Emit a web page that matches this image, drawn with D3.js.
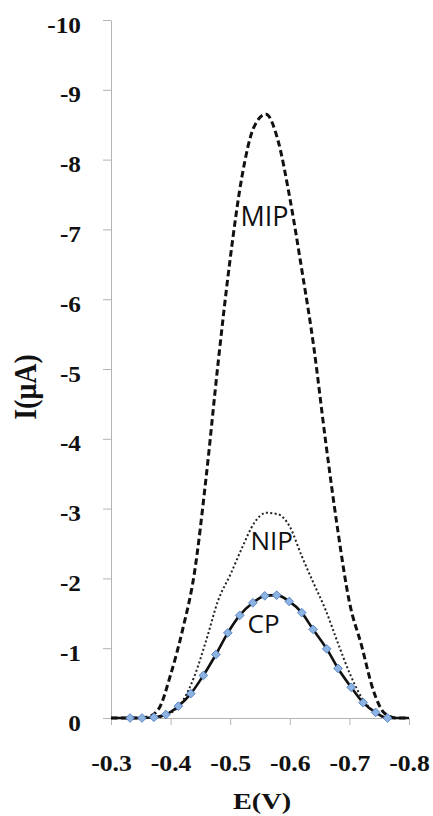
<!DOCTYPE html>
<html>
<head>
<meta charset="utf-8">
<script src="https://cdn.jsdelivr.net/npm/d3@7"></script>
<style>
body { margin: 0; background: #fff; }
svg { display: block; }
.axis path, .axis line { stroke: #b4b4b4; }
.tick-lbl, .ttl { font-family: "Liberation Serif", "DejaVu Serif", serif; font-weight: bold; fill: #111; }
.curve-lbl { font-family: "Open Sans", "Noto Sans", sans-serif; fill: #111; }
</style>
</head>
<body>
<div id="chart"></div>
<script>
'use strict';

// potentials (V) for the MIP / NIP curves
let E = [-0.30, -0.32, -0.34, -0.36, -0.38, -0.40, -0.42, -0.44, -0.46, -0.48, -0.50, -0.52, -0.54,
	-0.56, -0.58, -0.60, -0.62, -0.64, -0.66, -0.68, -0.70, -0.72, -0.74, -0.76, -0.78, -0.80];
let mip = [0, 0, 0, -0.01, -0.13, -0.62, -1.26, -2.08, -3.48, -5.11, -6.58, -7.77, -8.47,
	-8.65, -8.28, -7.45, -6.43, -5.33, -3.97, -2.72, -1.66, -1.05, -0.40, -0.06, 0, 0];
let nip = [0, 0, 0, 0, -0.01, -0.07, -0.24, -0.60, -1.12, -1.69, -2.05, -2.44, -2.79,
	-2.94, -2.92, -2.74, -2.32, -1.93, -1.55, -1.09, -0.65, -0.30, -0.10, -0.01, 0, 0];

// CP curve, first and last point have no marker
let cpE = [-0.300, -0.332, -0.352, -0.372, -0.392, -0.413, -0.434, -0.455, -0.476, -0.496, -0.516, -0.538,
	-0.558, -0.578, -0.599, -0.620, -0.639, -0.662, -0.681, -0.703, -0.723, -0.744, -0.764, -0.800];
let cp = [0, 0, 0, -0.01, -0.05, -0.17, -0.35, -0.61, -0.91, -1.22, -1.47, -1.65,
	-1.75, -1.76, -1.67, -1.51, -1.27, -0.99, -0.71, -0.44, -0.22, -0.08, 0, 0];

let xTicks = [-0.3, -0.4, -0.5, -0.6, -0.7, -0.8];
let yTicks = [0, -1, -2, -3, -4, -5, -6, -7, -8, -9, -10];

let labels = [
	{t: 'MIP', e: -0.5575, i: -7.05, s: 27},
	{t: 'NIP', e: -0.5695, i: -2.41, s: 26},
	{t: 'CP', e: -0.5560, i: -1.22, s: 26},
];

let W = 433, H = 816;
let x = d3.scaleLinear().domain([-0.3, -0.8]).range([111, 409]);
let y = d3.scaleLinear().domain([0, -10]).range([718, 20]);

let svg = d3.select('#chart')
	.append('svg')
		.attr('width', W)
		.attr('height', H)
	;

let gx = svg.append('g')
	.classed('axis', true)
	.attr('transform', 'translate(0,' + y(0) + ')')
	.call(d3.axisBottom(x).tickValues(xTicks).tickSize(7).tickSizeOuter(0).tickFormat(d => d.toFixed(1)))
	;
gx.selectAll('text')
	.classed('tick-lbl', true)
	.attr('y', null).attr('dy', null)
	.attr('font-size', 23)
	.attr('transform', 'translate(0,53) scale(1.12,1)')
	;

let gy = svg.append('g')
	.classed('axis', true)
	.attr('transform', 'translate(' + x(-0.3) + ',0)')
	.call(d3.axisLeft(y).tickValues(yTicks).tickSize(8).tickSizeOuter(0).tickFormat(d => String(d)))
	;
gy.selectAll('text')
	.classed('tick-lbl', true)
	.attr('x', null).attr('dy', null)
	.attr('font-size', 23)
	.attr('transform', 'translate(-30,12) scale(1.1,1)')
	;
svg.selectAll('.axis').attr('font-size', null).attr('font-family', null);

svg.append('text')
	.classed('ttl', true)
	.attr('font-size', 28)
	.attr('text-anchor', 'middle')
	.attr('transform', 'translate(36,387) rotate(-90) scale(1,1.15)')
	.text('I(μA)')
	;
svg.append('text')
	.classed('ttl', true)
	.attr('font-size', 24)
	.attr('text-anchor', 'middle')
	.attr('transform', 'translate(262,809) scale(1.18,1)')
	.text('E(V)')
	;

let line = d3.line()
	.x(d => x(d[0]))
	.y(d => y(d[1]))
	.curve(d3.curveMonotoneX)
	;

svg.append('path')
	.attr('d', line(d3.zip(E, mip)))
	.attr('fill', 'none')
	.attr('stroke', '#111')
	.attr('stroke-width', 3)
	.attr('stroke-dasharray', '6.5,3.5')
	;
svg.append('path')
	.attr('d', line(d3.zip(E, nip)))
	.attr('fill', 'none')
	.attr('stroke', '#222')
	.attr('stroke-width', 2)
	.attr('stroke-dasharray', '2,2.4')
	;
let cpPts = d3.zip(cpE, cp);
svg.append('path')
	.attr('d', line(cpPts))
	.attr('fill', 'none')
	.attr('stroke', '#111')
	.attr('stroke-width', 2.6)
	;
svg.append('g')
	.selectAll('path')
	.data(cpPts.slice(1, -1))
	.join('path')
		.attr('d', d3.symbol(d3.symbolSquare, 38))
		.attr('transform', d => 'translate(' + x(d[0]) + ',' + y(d[1]) + ') rotate(45)')
		.attr('fill', '#8db3e2')
		.attr('stroke', '#4a7bbf')
		.attr('stroke-width', 0.8)
	;

svg.append('g')
	.selectAll('text')
	.data(labels)
	.join('text')
		.classed('curve-lbl', true)
		.attr('x', d => x(d.e))
		.attr('y', d => y(d.i))
		.attr('font-size', d => d.s)
		.attr('text-anchor', 'middle')
		.text(d => d.t)
	;
</script>
</body>
</html>
